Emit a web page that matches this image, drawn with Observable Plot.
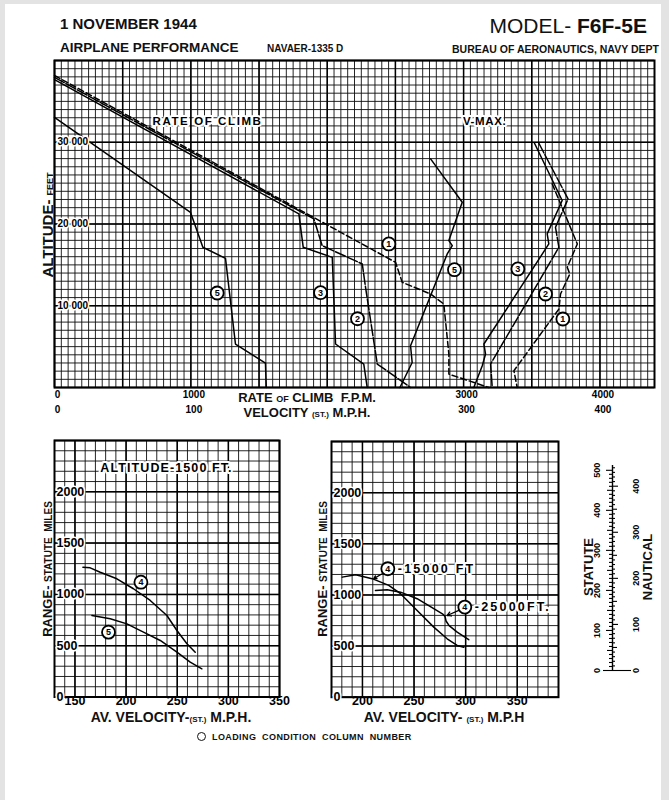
<!DOCTYPE html>
<html>
<head>
<meta charset="utf-8">
<script src="https://cdn.jsdelivr.net/npm/d3@7"></script>
<script src="https://cdn.jsdelivr.net/npm/@observablehq/plot@0.6"></script>
<style>
  html, body { margin: 0; padding: 0; background: #e3e3e3; }
  #page { position: relative; width: 669px; height: 800px; overflow: hidden; }
  #panel { position: absolute; left: 5px; top: 4px; width: 656px; height: 796px; background: #fff; }
  .abs { position: absolute; white-space: nowrap; font-family: "Liberation Sans", Arial, sans-serif;
         font-weight: bold; color: #111; line-height: 1; }
  .plot { position: absolute; }
  .plot svg { background: transparent !important; overflow: visible; }
  .ring { display: inline-block; width: 7px; height: 7px; border: 1.4px solid #111; border-radius: 50%;
          vertical-align: -1px; margin-right: 6px; }
</style>
</head>
<body>
<div id="page"><div id="panel"></div></div>
<script>
// ---------------- DATA ----------------
// Rate of climb: [ft/min, altitude ft] per loading-condition column
const rocCol1 = [[0,38170],[2501,15310],[2550,12860],[2758,11440],[2855,10210],[2892,4090],[2892,1640],[3185,0]];
const rocCol2 = [[0,37930],[1902,20620],[1963,17350],[2257,15110],[2281,12250],[2367,2870],[2611,0]];
const rocCol3 = [[0,37650],[1792,21240],[1824,17150],[2037,15920],[2061,5320],[2268,2870],[2293,0]];
const rocCol5 = [[0,33030],[997,21430],[1088,17150],[1254,15800],[1327,5320],[1547,2990],[1553,0]];
// V-max: [mph, altitude ft]
const vmaxCol1 = [[365.0,24910],[383.4,17560],[376.0,14700],[377.9,13890],[371.1,11440],[369.9,9600],[336.9,2050],[339.3,0]];
const vmaxCol2 = [[355.2,29880],[376.6,23070],[367.4,19600],[369.9,17150],[319.8,2870],[321.0,0]];
const vmaxCol3 = [[352.0,29880],[372.3,22870],[361.3,18790],[362.5,17560],[314.9,5320],[316.1,4090],[313.7,2660],[307.5,0]];
const vmaxCol5 = [[275.8,27970],[299.0,22660],[289.2,17970],[291.7,17350],[288.0,16340],[261.1,5110],[262.3,3060],[253.3,0]];
// column-number circles
const rocLabels  = [{col:"1",fpm:2452,alt:17560},{col:"2",fpm:2222,alt:8410},{col:"3",fpm:1951,alt:11600},{col:"5",fpm:1193,alt:11560}];
const vmaxLabels = [{col:"5",mph:293.3,alt:14410},{col:"3",mph:339.8,alt:14500},{col:"2",mph:360.1,alt:11440},{col:"1",mph:372.8,alt:8380}];
const mainNotes  = [{text:"RATE OF CLIMB",fpm:1122,alt:32530,ls:1.6},{text:"V-MAX.",fpm:3154,alt:32530,ls:0.6}];
// main axis ticks
const rocTicks = [0,1000,3000,4000];
const velTicks = [0,100,300,400];
const altTicks = [10000,20000,30000];

// Range vs average velocity: [mph, statute miles]
const range1500Col4  = [[157.8,1265],[164.9,1259],[174.7,1216],[191.0,1152],[207.2,1055],[223.6,941],[239.9,794],[249.7,648],[259.5,519],[267.6,437]];
const range1500Col5  = [[166.6,794],[184.5,762],[200.8,713],[217.0,632],[233.4,551],[249.7,437],[262.7,339],[274.1,275]];
const range15000Col4 = [[180.4,1174],[193.3,1198],[209.4,1159],[225.5,1093],[236.9,1012],[253.0,848],[269.1,685],[282.1,571],[291.8,506],[298.2,489]];
const range25000Col4 = [[212.6,1044],[224.0,1051],[236.9,1027],[253.0,963],[269.1,865],[277.5,815],[280.0,790],[281.0,745],[284.0,700],[291.8,636],[303.0,562]];
const leftLabels  = [{col:"4",mph:214.5,range:1119},{col:"5",mph:182.8,range:632}];
const rightLabels = [{col:"4",mph:224.6,range:1256,note:"-15000 FT",ls:2.2},{col:"4",mph:299.2,range:881,note:"-25000FT.",ls:2.2}];
const rightArrows = [{x1:219.1,y1:1207,x2:211.0,y2:1159},{x1:293.4,y1:848,x2:282.1,y2:799}];
const leftNote = [{text:"ALTITUDE-1500 FT.",mph:239.5,range:2230,ls:1.1}];
const rangeTicks = [0,500,1000,1500,2000];
const velTicksLeft  = [150,200,250,300,350];
const velTicksRight = [200,250,300,350];

// statute / nautical conversion scale
const statuteLabels  = [0,100,200,300,400,500];
const nauticalLabels = [0,100,200,300,400];
const statutePerNautical = 1.15078;

// ---------------- HELPERS ----------------
const FONT = "'Liberation Sans', Arial, sans-serif";
const page = document.getElementById("page");
function put(el, left, top) {
  const d = document.createElement("div");
  d.className = "plot"; d.style.left = left + "px"; d.style.top = top + "px";
  d.appendChild(el); page.appendChild(d);
}
function label(html, x, y, o = {}) {
  const d = document.createElement("div");
  d.className = "abs";
  d.innerHTML = html;
  d.style.left = x + "px"; d.style.top = y + "px";
  d.style.fontSize = (o.size || 12) + "px";
  if (o.ls) d.style.letterSpacing = o.ls + "px";
  const tx = o.anchor === "end" ? "-100%" : o.anchor === "middle" || o.rotate ? "-50%" : "0";
  d.style.transform = `translate(${tx},-50%)` + (o.rotate ? ` rotate(${o.rotate}deg)` : "");
  page.appendChild(d);
}
// letter-spacing for annotation texts (applied after render)
function spaceText(svg, items, key) {
  const map = new Map(items.map(d => [d[key], d.ls]));
  d3.select(svg).selectAll("text").each(function () {
    const ls = map.get(this.textContent);
    if (ls) d3.select(this).attr("letter-spacing", ls);
  });
}
const dashes = {"1": "6,3", "2": "11,2", "3": undefined, "5": undefined};
const ink = "#0d0d0d";
const gridMinor = {stroke: ink, strokeWidth: 0.9};
const gridMajor = {stroke: "#000", strokeWidth: 1.5};
const circles = (data, x, y) => [
  Plot.dot(data, {x, y, r: 6.5, stroke: "#000", strokeWidth: 1.8, fill: "white"}),
  Plot.text(data, {x, y, text: "col", fontWeight: "bold", fontSize: 9, fill: "#000"})
];
const halo = {stroke: "white", strokeWidth: 4, paintOrder: "stroke", fill: "#000", fontWeight: "bold"};

// ---------------- MAIN CHART ----------------
const rocSeries  = [["1", rocCol1], ["2", rocCol2], ["3", rocCol3], ["5", rocCol5]];
const vmaxSeries = [["1", vmaxCol1], ["2", vmaxCol2], ["3", vmaxCol3], ["5", vmaxCol5]];
const main = Plot.plot({
  width: 669, height: 430,
  marginLeft: 54, marginRight: 15, marginTop: 60, marginBottom: 43,
  x: {domain: [0, 4400], axis: null},
  y: {domain: [0, 40000], axis: null},
  style: {fontFamily: FONT, background: "transparent"},
  marks: [
    Plot.ruleX(d3.range(0, 4401, 50), gridMinor),
    Plot.ruleY(d3.range(0, 40001, 1000), gridMinor),
    Plot.ruleX(d3.range(0, 4401, 500), gridMajor),
    Plot.ruleY(d3.range(0, 40001, 10000), gridMajor),
    Plot.frame({stroke: "#000", strokeWidth: 2}),
    ...rocSeries.map(([c, pts]) => Plot.line(pts, {x: d => d[0], y: d => d[1], stroke: "#000", strokeWidth: 1.5, strokeDasharray: dashes[c]})),
    ...vmaxSeries.map(([c, pts]) => Plot.line(pts, {x: d => d[0] * 10, y: d => d[1], stroke: "#000", strokeWidth: 1.5, strokeDasharray: dashes[c]})),
    ...circles(rocLabels, "fpm", "alt"),
    ...circles(vmaxLabels, d => d.mph * 10, "alt"),
    Plot.text(mainNotes, {x: "fpm", y: "alt", text: "text", fontSize: 11.5, ...halo}),
    Plot.text(altTicks, {y: d => d, text: d => `${d / 1000} 000`, frameAnchor: "left", textAnchor: "start", dx: 3, fontSize: 10, ...halo, strokeWidth: 3}),
    Plot.text(rocTicks, {x: d => d, text: d => String(d), frameAnchor: "bottom", dy: 10, dx: 3, fontSize: 10, fontWeight: "bold", fill: "#000"}),
    Plot.text(velTicks, {x: d => d * 10, text: d => String(d), frameAnchor: "bottom", dy: 25, dx: 3, fontSize: 10, fontWeight: "bold", fill: "#000"})
  ]
});
spaceText(main, mainNotes, "text");
put(main, 0, 0);

// ---------------- LOWER CHARTS ----------------
function rangePlot(xDomain, margins, marks, xTicks) {
  return Plot.plot({
    width: margins.width, height: 300,
    marginLeft: margins.left, marginRight: margins.right, marginTop: margins.top, marginBottom: margins.bottom,
    x: {domain: xDomain, axis: null},
    y: {domain: [0, 2500], axis: null},
    style: {fontFamily: FONT, background: "transparent"},
    marks: [
      Plot.ruleX(d3.range(xDomain[0], xDomain[1] + 1, 10), gridMinor),
      Plot.ruleY(d3.range(0, 2501, 100), gridMinor),
      Plot.ruleX(d3.range(xDomain[0], xDomain[1] + 1, 10).filter(v => v % 50 === 0), gridMajor),
      Plot.ruleY(d3.range(0, 2501, 500), gridMajor),
      Plot.frame({stroke: "#000", strokeWidth: 2}),
      Plot.text(rangeTicks, {y: d => d, text: d => String(d), frameAnchor: "left", textAnchor: "start", dx: 2, fontSize: 12.5, ...halo, strokeWidth: 3}),
      Plot.text(xTicks, {x: d => d, text: d => String(d), frameAnchor: "bottom", dy: 8, fontSize: 12.5, fontWeight: "bold", fill: "#000"}),
      ...marks
    ]
  });
}
const lowerLeft = rangePlot([130, 350], {width: 300, left: 54, right: 21, top: 10, bottom: 33.5}, [
  Plot.line(range1500Col4, {x: d => d[0], y: d => d[1], stroke: "#000", strokeWidth: 1.5}),
  Plot.line(range1500Col5, {x: d => d[0], y: d => d[1], stroke: "#000", strokeWidth: 1.5}),
  ...circles(leftLabels, "mph", "range"),
  Plot.text(leftNote, {x: "mph", y: "range", text: "text", fontSize: 12.5, ...halo})
], velTicksLeft);
spaceText(lowerLeft, leftNote, "text");
put(lowerLeft, 0, 430);

const lowerRight = rangePlot([170, 390], {width: 280, left: 31, right: 22, top: 11, bottom: 33.3}, [
  Plot.line(range15000Col4, {x: d => d[0], y: d => d[1], stroke: "#000", strokeWidth: 1.5}),
  Plot.line(range25000Col4, {x: d => d[0], y: d => d[1], stroke: "#000", strokeWidth: 1.5}),
  Plot.arrow(rightArrows, {x1: "x1", y1: "y1", x2: "x2", y2: "y2", stroke: "#000", strokeWidth: 1.3, headLength: 6}),
  ...circles(rightLabels, "mph", "range"),
  Plot.text(rightLabels, {x: "mph", y: "range", text: "note", textAnchor: "start", dx: 10, fontSize: 12.5, ...halo})
], velTicksRight);
spaceText(lowerRight, rightLabels, "note");
put(lowerRight, 300, 430);

// ---------------- STATUTE / NAUTICAL SCALE ----------------
const tickLen = v => v % 100 === 0 ? 6 : v % 50 === 0 ? 5 : 3;
const scalePlot = Plot.plot({
  width: 109, height: 250,
  marginLeft: 0, marginRight: 14, marginTop: 25, marginBottom: 20,
  x: {domain: [-52, 43], axis: null},
  y: {domain: [0, 512], axis: null},
  style: {fontFamily: FONT, background: "transparent"},
  marks: [
    Plot.ruleX([0], {stroke: "#000", strokeWidth: 1.4}),
    Plot.ruleY(d3.range(0, 501, 10), {y: d => d, x1: d => d === 0 ? -9 : -tickLen(d), x2: 0, stroke: "#000", strokeWidth: 1.1}),
    Plot.ruleY(d3.range(0, 441, 10), {y: d => d * statutePerNautical, x1: 0, x2: d => d === 0 ? 19 : tickLen(d), stroke: "#000", strokeWidth: 1.1}),
    Plot.text(statuteLabels, {y: d => d, x: () => 0, dx: -15, text: d => String(d), rotate: -90, fontSize: 9, fontWeight: "bold", fill: "#000"}),
    Plot.text(nauticalLabels, {y: d => d * statutePerNautical, x: () => 0, dx: 24, text: d => String(d), rotate: -90, fontSize: 9, fontWeight: "bold", fill: "#000"})
  ]
});
put(scalePlot, 560, 440);

// ---------------- TEXT ----------------
label("1 NOVEMBER 1944", 60, 23, {size: 15});
label('<span style="font-weight:normal">MODEL-</span> F6F-5E', 647, 25, {size: 21, anchor: "end"});
label("AIRPLANE PERFORMANCE", 60, 48, {size: 13.5});
label("NAVAER-1335 D", 267, 49, {size: 10});
label("BUREAU OF AERONAUTICS, NAVY DEPT", 452, 49, {size: 10.5});

label('ALTITUDE- <span style="font-size:9px">FEET</span>', 47, 225, {size: 15, rotate: -90});
label('RATE <span style="font-size:9px">OF</span> CLIMB&nbsp; F.P.M.', 307, 397, {size: 13, anchor: "middle"});
label('VELOCITY <span style="font-size:8px">(ST.)</span> M.P.H.', 307, 412, {size: 13, anchor: "middle"});

label('RANGE- <span style="font-size:10px">STATUTE&nbsp; MILES</span>', 47, 569, {size: 13, rotate: -90});
label('RANGE- <span style="font-size:10px">STATUTE&nbsp; MILES</span>', 322, 569, {size: 13, rotate: -90});
label('AV. VELOCITY-<span style="font-size:8px">(ST.)</span> M.P.H.', 171, 717, {size: 14, anchor: "middle"});
label('AV. VELOCITY- <span style="font-size:8px">(ST.)</span> M.P.H', 444, 717, {size: 14, anchor: "middle"});

label("STATUTE", 588, 567, {size: 13, rotate: -90});
label("NAUTICAL", 647, 567, {size: 13, rotate: -90});

label('<span class="ring"></span>LOADING&nbsp; CONDITION&nbsp; COLUMN&nbsp; NUMBER', 197, 737, {size: 9, ls: 0.4});
</script>
</body>
</html>
